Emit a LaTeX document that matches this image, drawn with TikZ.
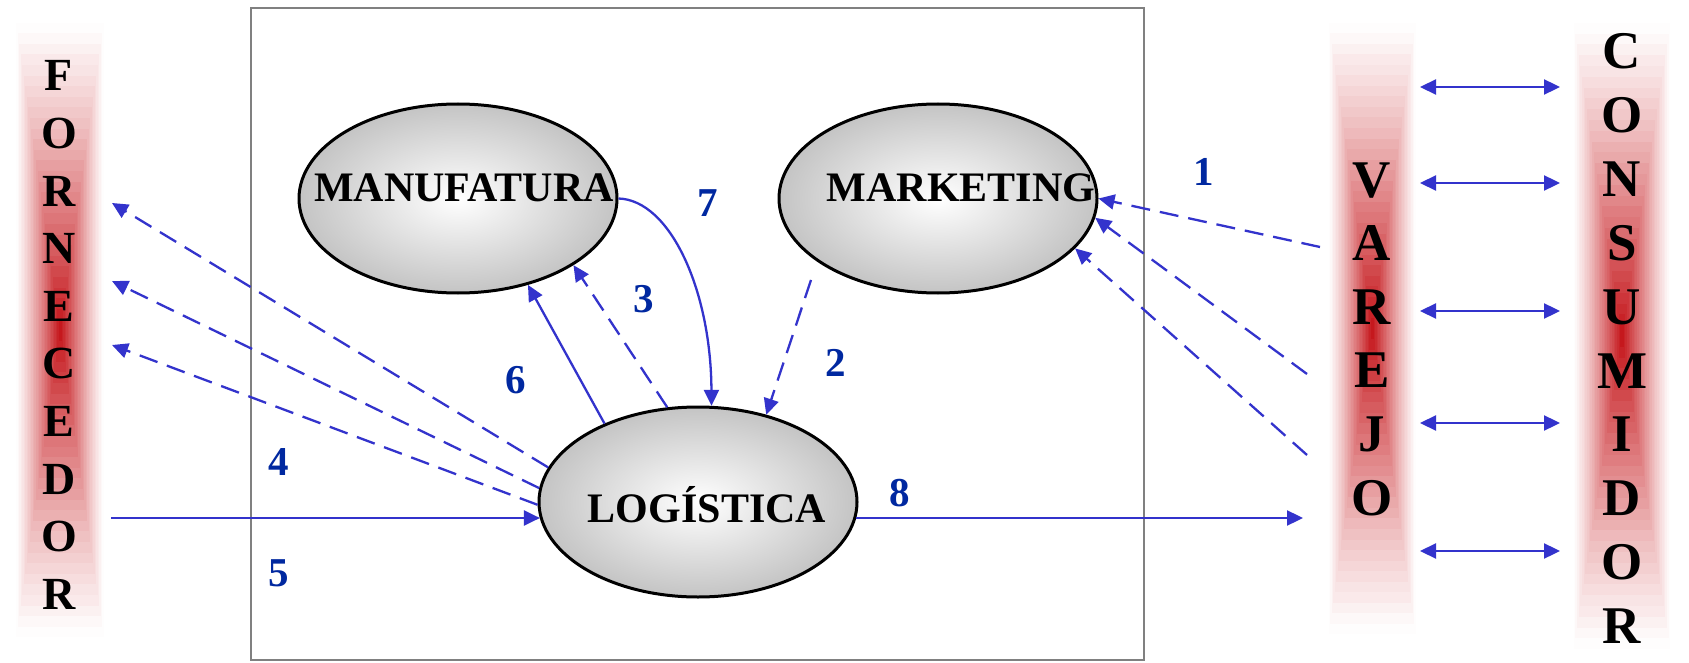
\documentclass[tikz,border=0pt]{standalone}
\usepackage{fontspec}
\setmainfont{Liberation Serif}
\usetikzlibrary{arrows.meta,shapes.geometric}
\definecolor{arrowblue}{RGB}{51,51,204}
\definecolor{numblue}{RGB}{0,40,160}
\definecolor{barred}{RGB}{195,15,20}
\definecolor{boxgray}{RGB}{128,128,128}
\definecolor{ellgray}{RGB}{196,196,196}
\begin{document}
\begin{tikzpicture}[x=1pt,y=-1pt,
  conn/.style={draw=arrowblue, line width=2.3pt},
  dashconn/.style={conn, dash pattern=on 19pt off 10pt},
  tip/.style={-{Triangle[length=16pt,width=15pt]}},
  dtip/.style={{Triangle[length=16pt,width=15pt]}-{Triangle[length=16pt,width=15pt]}},
  func/.style={ellipse, draw=black, line width=3pt, minimum width=318pt, minimum height=189pt,
    shading=radial, inner color=white, outer color=ellgray},
  functext/.style={font=\fontsize{42}{42}\selectfont\bfseries, anchor=base, inner sep=0pt},
  num/.style={text=numblue, font=\fontsize{41}{41}\selectfont\bfseries, inner sep=0pt},
  letters/.style={align=center, inner sep=0pt},
]
\fill[white] (0,0) rectangle (1689,663);
\useasboundingbox (0,0) rectangle (1689,663);

% gradient bars
\foreach \cx/\ya/\yb/\hw in {60/12/648/45, 1372/12/645/45, 1622/12/660/50}{
  \pgfmathsetmacro\cy{(\ya+\yb)/2}
  \pgfmathsetmacro\hh{(\yb-\ya)/2}
  \foreach \i in {1,...,29}{
    \pgfmathsetmacro\t{1-\i/30}
    \pgfmathtruncatemacro\p{100*(\i/30)^1.2}
    \fill[barred!\p!white] (\cx-\hw*\t, \cy-\hh*\t) rectangle (\cx+\hw*\t, \cy+\hh*\t);
  }
}

% letter columns
\node[letters, font=\fontsize{46}{57.6}\selectfont\bfseries] (forn) at (59,335)
  {F\\O\\R\\N\\E\\C\\E\\D\\O\\R};
\node[letters, font=\fontsize{53}{63.6}\selectfont\bfseries] (varejo) at (1372,339)
  {V\\A\\R\\E\\J\\O};
\node[letters, font=\fontsize{53}{63.9}\selectfont\bfseries] (cons) at (1622,338.5)
  {C\\O\\N\\S\\U\\M\\I\\D\\O\\R};

% company box
\draw[boxgray, line width=2.5pt] (251,8) rectangle (1144,660);

% functions
\node[func] (manu) at (458,198.5) {};
\node[func] (mark) at (938,198.5) {};
\node[func, minimum height=190pt] (logi) at (698,502) {};
\node[functext] (manuT) at (464,202) {MANUFATURA};
\node[functext] (markT) at (961,202) {MARKETING};
\node[functext] (logiT) at (707,522) {LOGÍSTICA};

% free ends
\coordinate (m2) at (811,280);
\coordinate (v1a) at (1320,247);
\coordinate (v1b) at (1307,374);
\coordinate (v1c) at (1307,455);
\coordinate (f4a) at (112,203);
\coordinate (f4b) at (112,281);
\coordinate (f4c) at (112,345);
\coordinate (f5) at (111,518);
\coordinate (v8) at (1303,518);

% connectors
\draw[conn,tip] (manu.east) .. controls (670,200) and (711,290) .. (logi.82.4);
\draw[conn,tip] (logi.140.5) -- (manu.-51);
\draw[dashconn,tip] (logi.108.8) -- (manu.-30.8);
\draw[dashconn,tip] (m2) -- (logi.52.9);
\draw[dashconn,tip] (v1a) -- (mark.east);
\draw[dashconn,tip] (v1b) -- (mark.-7.3);
\draw[dashconn,tip] (v1c) -- (mark.-20.4);
\draw[dashconn,tip] (logi.167.8) -- (f4a);
\draw[dashconn,tip] (logi.175) -- (f4b);
\draw[dashconn,tip] (logi.181) -- (f4c);
\draw[conn,tip] (f5) -- (f5 -| logi.186);
\draw[conn,tip] (v8 -| logi.-6) -- (v8);

\foreach \y [count=\k] in {87,183,311,423,551}{
  \coordinate (vr\k) at (1420,\y);
  \coordinate (cs\k) at (1560,\y);
  \draw[conn,dtip] (vr\k) -- (cs\k);
}

% numbers
\node[num] (n1) at (1204,172) {1};
\node[num] (n2) at (836,363) {2};
\node[num] (n3) at (644,299) {3};
\node[num] (n4) at (279,462) {4};
\node[num] (n5) at (279,573) {5};
\node[num] (n6) at (516,380) {6};
\node[num] (n7) at (708,203) {7};
\node[num] (n8) at (900,493) {8};
\end{tikzpicture}
\end{document}
